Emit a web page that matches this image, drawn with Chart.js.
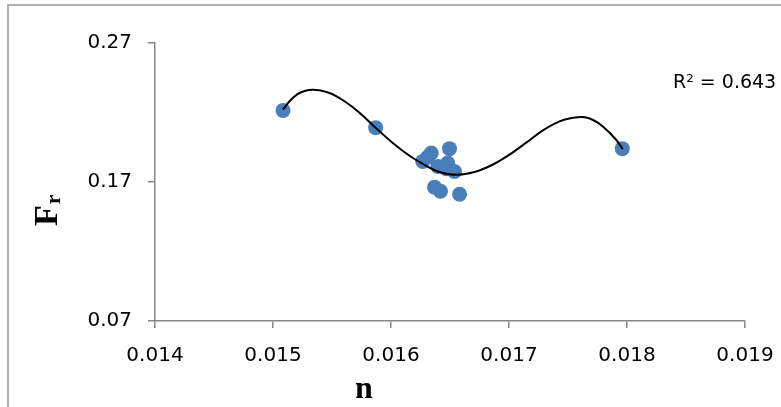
<!DOCTYPE html>
<html>
<head>
<meta charset="utf-8">
<script src="https://cdn.jsdelivr.net/npm/chart.js@4/dist/chart.umd.min.js"></script>
<style>
  html, body { margin: 0; padding: 0; background: #fff; overflow: hidden; }
  #wrap { position: relative; width: 781px; height: 407px; }
</style>
</head>
<body>
<div id="wrap"><canvas id="scatter" width="781" height="407"></canvas></div>
<script>
// measured points (n, Fr)
var nValues = [0.015085, 0.015870, 0.017960, 0.016581, 0.016496, 0.016341, 0.016309, 0.016269,
               0.016397, 0.016481, 0.016468, 0.016538, 0.016369, 0.016419];
var frValues = [0.2215, 0.2091, 0.1940, 0.1612, 0.1940, 0.1909, 0.1878, 0.1848,
                0.1812, 0.1837, 0.1796, 0.1776, 0.1663, 0.1634];

// trendline
var trendN = [0.015083, 0.015140, 0.015208, 0.015275, 0.015337, 0.015479, 0.015606, 0.015733,
              0.015860, 0.016015, 0.016157, 0.016256, 0.016397, 0.016555, 0.016708, 0.016860,
              0.017004, 0.017146, 0.017284, 0.017428, 0.017530, 0.017625, 0.017708, 0.017795,
              0.017908, 0.017964];
var trendFr = [0.2220, 0.2281, 0.2332, 0.2357, 0.2364, 0.2340, 0.2281, 0.2199,
               0.2098, 0.1981, 0.1889, 0.1837, 0.1776, 0.1752, 0.1772, 0.1824,
               0.1897, 0.1983, 0.2069, 0.2136, 0.2160, 0.2168, 0.2148, 0.2100,
               0.2004, 0.1937];

var xTicks = [0.014, 0.015, 0.016, 0.017, 0.018, 0.019];
var yTicks = [0.07, 0.17, 0.27];
var rSquared = 'R\u00b2 = 0.643';

var pts = nValues.map(function (v, i) { return { x: v, y: frValues[i] }; });
var trend = trendN.map(function (v, i) { return { x: v, y: trendFr[i] }; });

var tickFont = { family: 'DejaVu Sans', size: 20 };
var axisGrey = '#868686';

var decorations = {
    id: 'decorations',
    beforeDraw: function (chart) {
        var ctx = chart.ctx;
        ctx.save();
        ctx.fillStyle = '#fff';
        ctx.fillRect(0, 0, chart.width, chart.height);
        ctx.strokeStyle = '#969696';
        ctx.lineWidth = 1.5;
        ctx.strokeRect(8, 5, 900, 600);
        ctx.restore();
    },
    afterDraw: function (chart) {
        var ctx = chart.ctx;
        ctx.save();
        ctx.fillStyle = '#000';
        // R squared label
        ctx.font = '19px "DejaVu Sans"';
        ctx.textBaseline = 'middle';
        ctx.fillText(rSquared, 673, 83);
        // x title
        ctx.font = 'bold 32px "Liberation Serif"';
        ctx.textAlign = 'center';
        ctx.textBaseline = 'alphabetic';
        ctx.fillText('n', 364, 398);
        // y title, rotated, with subscript r
        ctx.translate(57, 226);
        ctx.rotate(-Math.PI / 2);
        ctx.textAlign = 'left';
        ctx.font = 'bold 34px "Liberation Serif"';
        ctx.fillText('F', 0, 0);
        var w = ctx.measureText('F').width;
        ctx.font = 'bold 22px "Liberation Serif"';
        ctx.fillText('r', w + 1, 3);
        ctx.restore();
    }
};

var ctx = document.getElementById('scatter').getContext('2d');

var myChart = new Chart(ctx, {
    type: 'scatter',
    data: {
        datasets: [{
            label: 'Fr',
            data: pts,
            backgroundColor: '#4a7ebb',
            borderColor: '#4a7ebb',
            borderWidth: 0,
            pointRadius: 7.5,
            order: 1
        }, {
            label: 'trend',
            data: trend,
            showLine: true,
            borderColor: '#000',
            borderWidth: 2,
            pointRadius: 0,
            cubicInterpolationMode: 'monotone',
            order: 0
        }]
    },
    options: {
        responsive: false,
        animation: false,
        events: [],
        layout: { padding: { left: 0, top: 43, right: 36, bottom: 0 } },
        plugins: { legend: { display: false }, tooltip: { enabled: false } },
        scales: {
            x: {
                type: 'linear',
                min: 0.014,
                max: 0.019,
                afterBuildTicks: function (s) { s.ticks = xTicks.map(function (v) { return { value: v }; }); },
                afterFit: function (s) { s.height = 86; s.paddingLeft = 0; s.paddingRight = 0; },
                grid: { drawOnChartArea: false, drawTicks: true, tickLength: 7, color: axisGrey, lineWidth: 1.5 },
                border: { color: axisGrey, width: 1.5 },
                ticks: {
                    font: tickFont, color: '#000', padding: 16, maxRotation: 0,
                    callback: function (v) { return v.toFixed(3); }
                }
            },
            y: {
                type: 'linear',
                min: 0.07,
                max: 0.27,
                afterBuildTicks: function (s) { s.ticks = yTicks.map(function (v) { return { value: v }; }); },
                afterFit: function (s) { s.width = 155; s.paddingTop = 0; s.paddingBottom = 0; },
                grid: { drawOnChartArea: false, drawTicks: true, tickLength: 7, color: axisGrey, lineWidth: 1.5 },
                border: { color: axisGrey, width: 1.5 },
                ticks: {
                    font: tickFont, color: '#000', padding: 16,
                    callback: function (v) { return v.toFixed(2); }
                }
            }
        }
    },
    plugins: [decorations]
});
</script>
</body>
</html>
